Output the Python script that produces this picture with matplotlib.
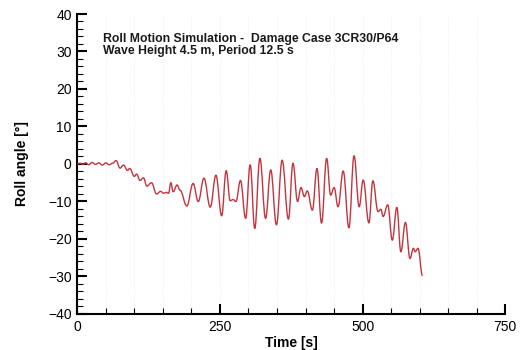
import matplotlib.pyplot as plt
from matplotlib.path import Path
from matplotlib.patches import PathPatch
from matplotlib.ticker import MultipleLocator

plt.rcParams['font.family'] = ['Liberation Sans', 'DejaVu Sans']

# roll motion time history (extrema and bends)
time_s = [0, 5, 10, 15, 20, 26, 32, 38, 44, 50, 56, 62, 68, 75, 81, 88, 92,
          100, 104, 110, 116, 122, 130, 139, 146, 151, 156, 160, 164, 168,
          175, 180, 192, 203, 212, 222, 233, 243, 253, 261, 268, 273, 278,
          286, 295, 303, 311, 320, 330, 339, 349, 359, 370, 378, 386, 392,
          398, 403, 412, 420, 428, 437, 444, 450, 457, 466, 476, 485, 494,
          501, 511, 518, 527, 532, 536, 544, 552, 560, 567, 575, 583, 589,
          592, 597, 605]
roll_deg = [0.0, 0.2, -0.1, 0.3, -0.2, 0.4, -0.1, 0.3, -0.3, 0.3, -0.2, 0.2,
            0.9, -1.1, -0.3, -1.7, -1.2, -3.3, -2.7, -4.4, -3.7, -5.9, -5.0,
            -8.0, -7.3, -7.8, -7.6, -7.8, -5.0, -7.4, -5.6, -7.0, -11.2,
            -5.2, -10.0, -3.8, -11.5, -3.0, -13.8, -1.8, -9.8, -9.5, -10.0,
            -4.4, -14.5, -0.2, -17.2, 1.5, -14.5, -1.6, -16.2, 1.0, -14.7,
            0.2, -10.0, -6.3, -8.7, -7.2, -12.3, -1.2, -15.8, 1.5, -8.3,
            -6.3, -11.4, -1.9, -17.0, 2.2, -11.4, -4.3, -15.7, -4.5, -12.7,
            -12.1, -14.0, -10.9, -20.3, -11.6, -23.4, -15.6, -25.2, -22.5,
            -23.4, -22.5, -29.8]

fig = plt.figure(figsize=(5.22, 3.5), dpi=100)
ax = fig.add_axes([0.148, 0.103, 0.820, 0.857])

# smooth the trace: cubic segments with flat tangents at each read point
verts = [(time_s[0], roll_deg[0])]
codes = [Path.MOVETO]
for i in range(1, len(time_s)):
    t0, v0 = time_s[i - 1], roll_deg[i - 1]
    t1, v1 = time_s[i], roll_deg[i]
    dt = t1 - t0
    verts += [(t0 + 0.4 * dt, v0), (t1 - 0.4 * dt, v1), (t1, v1)]
    codes += [Path.CURVE4] * 3
ax.add_patch(PathPatch(Path(verts, codes), fill=False, edgecolor='#c4343e',
                       lw=1.0, zorder=3))

ax.set_xlim(0, 750)
ax.set_ylim(-40, 40)
ax.xaxis.set_major_locator(MultipleLocator(250))
ax.xaxis.set_minor_locator(MultipleLocator(50))
ax.yaxis.set_major_locator(MultipleLocator(10))
ax.yaxis.set_minor_locator(MultipleLocator(2))

for side in ['top', 'right']:
    ax.spines[side].set_visible(False)
for side in ['left', 'bottom']:
    ax.spines[side].set_linewidth(1.5)

ax.tick_params(which='major', direction='in', length=7, width=1.5,
               labelsize=10, pad=4)
ax.tick_params(which='minor', direction='in', length=4, width=0.8)
ax.grid(axis='x', which='both', color='#ececec', lw=0.6, ls=':')

ax.set_xlabel('Time [s]', fontsize=10, fontweight='bold', labelpad=2)
ax.set_ylabel('Roll angle [°]', fontsize=10, fontweight='bold', labelpad=14)

ax.text(0.06, 0.935, 'Roll Motion Simulation -  Damage Case 3CR30/P64\n'
        'Wave Height 4.5 m, Period 12.5 s',
        transform=ax.transAxes, fontsize=8.8, fontweight='bold',
        color='#1a1a1a', va='top', ha='left', linespacing=1.0)

fig.savefig('out.png', dpi=100)
